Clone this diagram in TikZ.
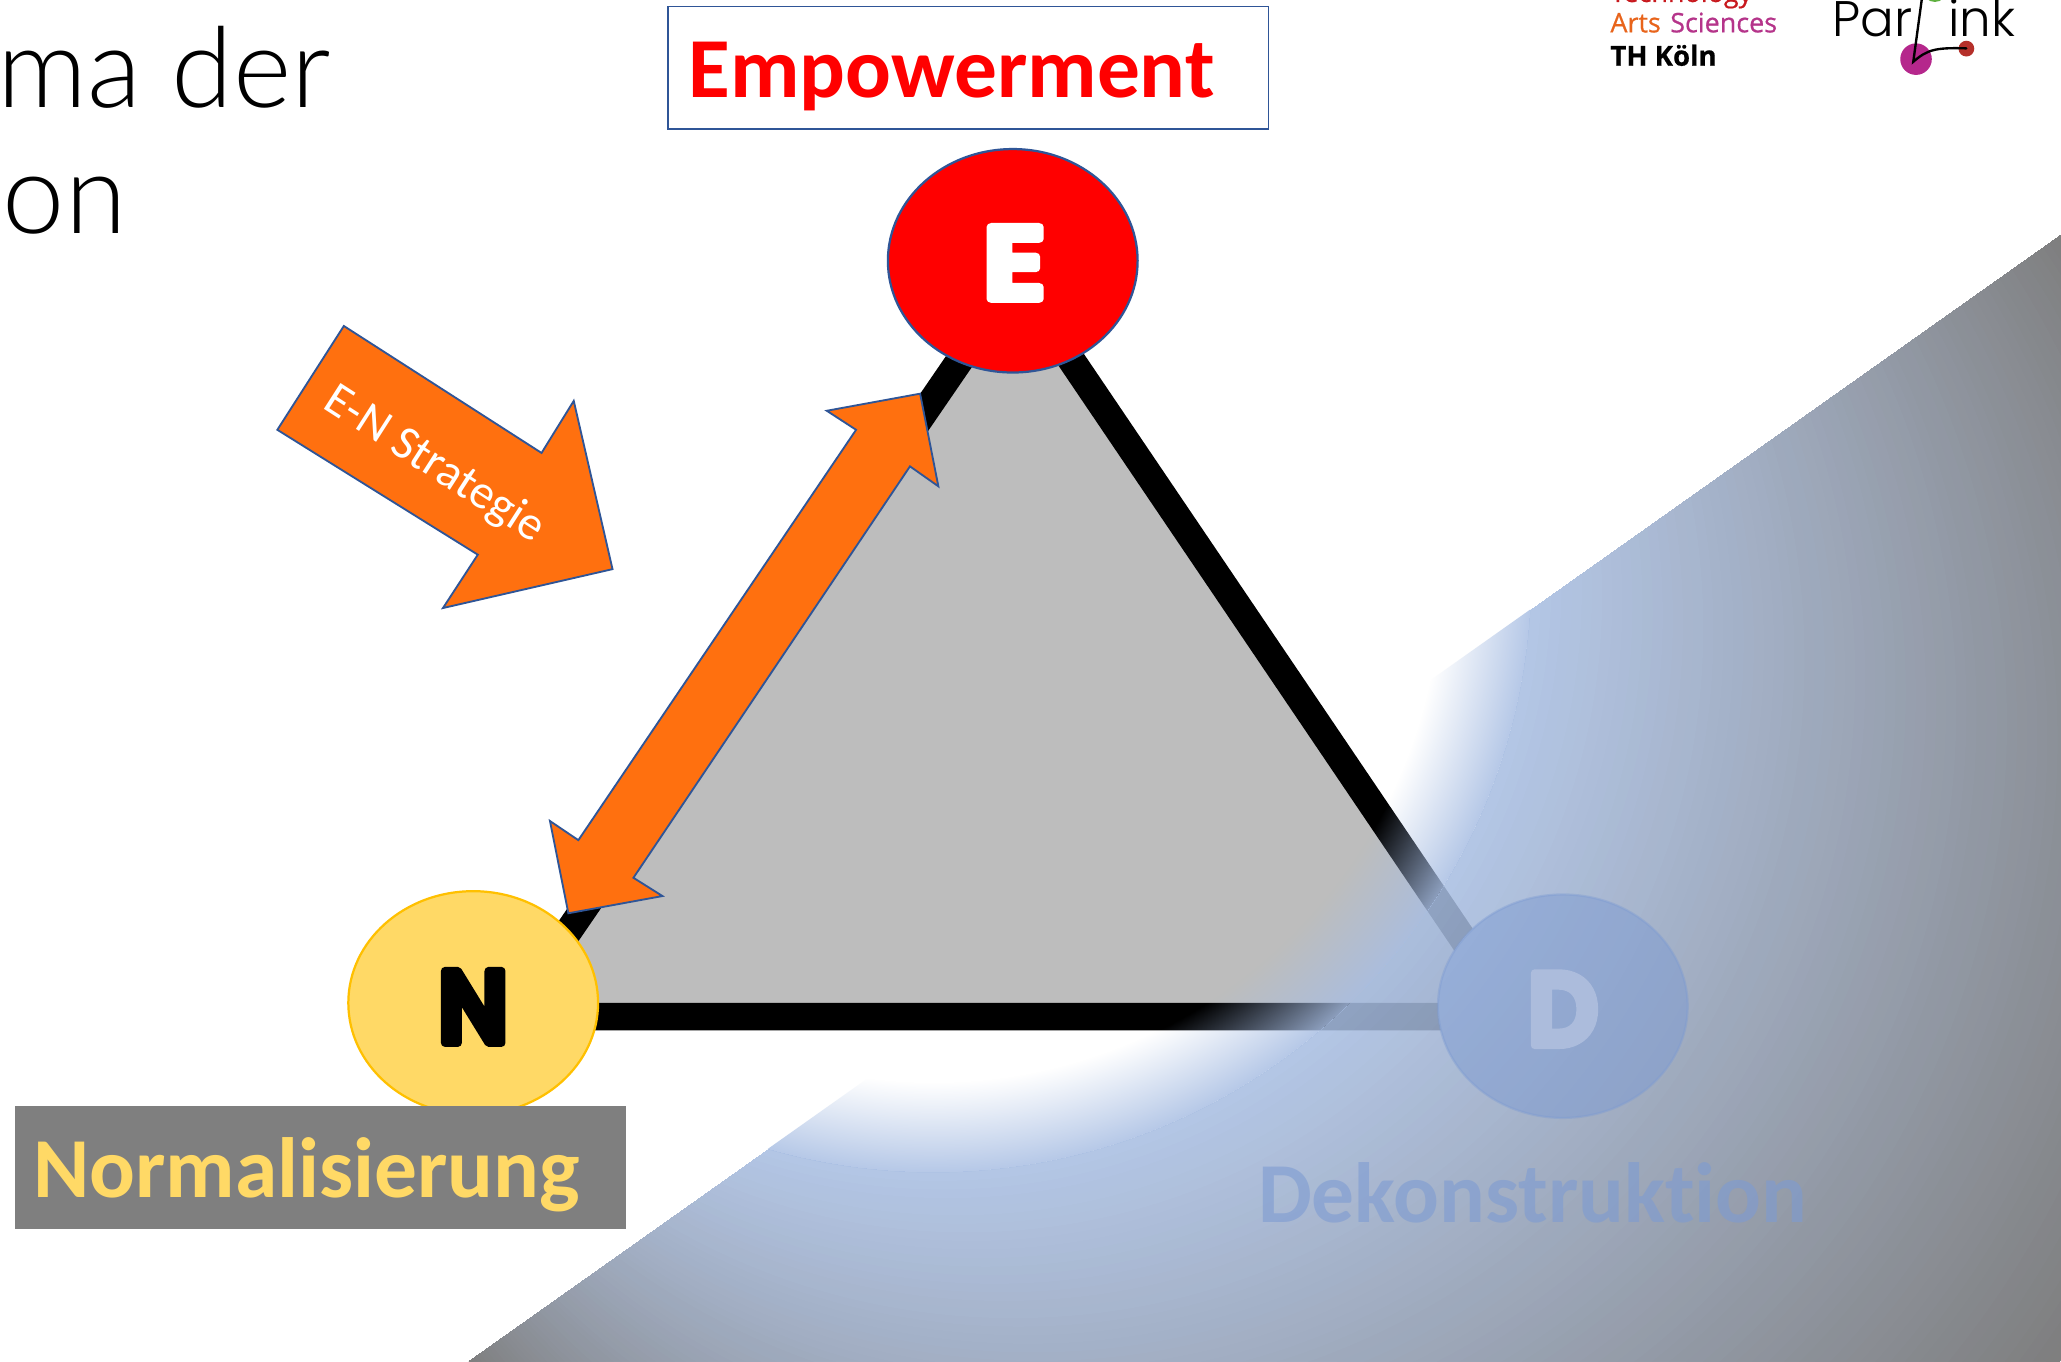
\documentclass[tikz,border=0pt]{standalone}
\usepackage{fontspec}
\setmainfont[Ligatures=NoCommon]{Carlito}
\newfontfamily\titlefont{Lato Light}
\newfontfamily\parfont{Poppins Light}
\newfontfamily\logofont[FakeBold=.6]{Open Sans}
\newfontfamily\heavyfont[FakeBold=8]{Poppins SemiBold}
\usetikzlibrary{shapes.geometric,fadings}
\definecolor{edgeblue}{HTML}{2F5597}
\definecolor{orangefill}{HTML}{FF700F}
\definecolor{goldfill}{HTML}{FFD966}
\definecolor{goldedge}{HTML}{FFC000}
\definecolor{trigrey}{RGB}{189,189,189}
\definecolor{artsorange}{RGB}{232,100,27}
\definecolor{scimagenta}{RGB}{181,52,138}
\definecolor{techred}{RGB}{200,25,30}
\definecolor{dotmagenta}{RGB}{181,39,140}
\definecolor{dotred}{RGB}{181,48,42}
\definecolor{dotgreen}{RGB}{95,176,64}
\definecolor{dfill}{RGB}{125,155,210}
\definecolor{dletter}{RGB}{172,188,220}
\definecolor{boxgrey}{RGB}{127,127,127}
\pgfdeclareradialshading{haloflat}{\pgfpoint{0bp}{0bp}}{rgb(0bp)=(.659,.745,.89); rgb(50bp)=(.659,.745,.89)}
\pgfdeclareradialshading{halomask}{\pgfpoint{0bp}{0bp}}{rgb(0bp)=(0,0,0); rgb(8.75bp)=(0,0,0); rgb(10.34bp)=(.86,.86,.86); rgb(50bp)=(.86,.86,.86)}
\pgfdeclarefading{halofade}{\pgfuseshading{halomask}}
\tikzset{
  blob/.style={shape=ellipse,minimum width=190pt,minimum height=170pt,inner sep=0pt,line width=1.7pt},
  letter/.style={anchor=base,inner sep=0pt,font=\heavyfont\fontsize{78}{78}\selectfont},
  tag/.style={anchor=base west,inner sep=0pt,font=\bfseries\fontsize{65}{65}\selectfont},
  headline/.style={anchor=base west,inner sep=0pt,font=\titlefont\fontsize{85}{85}\selectfont},
  strategyarrow/.style={fill=orangefill,draw=edgeblue,line width=1.4pt,line join=miter},
  logotext/.style={anchor=base west,inner sep=0pt,font=\logofont\fontsize{20.5}{20.5}\selectfont},
  parlink/.style={anchor=base west,inner sep=0pt,font=\parfont\fontsize{38}{38}\selectfont}
}
\begin{document}
\begin{tikzpicture}[x=1pt,y=-1pt]
\useasboundingbox (0,0) rectangle (1568,1035.5);
\clip (0,0) rectangle (1568,1035.5);
\fill[white] (0,0) rectangle (1568,1035.5);
% title
\node[headline] (t1) at (-2,81.7) {ma der};
\node[headline] (t2) at (2,177.5) {on};
% logos
\node[logotext,text=techred] (l0) at (1225,1.5) {Technology};
\node[logotext,text=artsorange] (l1) at (1225,24.6) {Arts};
\node[logotext,text=scimagenta] (l2) at (1270.5,24.6) {Sciences};
\node[logotext,text=black,font=\logofont\bfseries\fontsize{21}{21}\selectfont] (l3) at (1225,50) {TH Köln};
\node[parlink] (p1) at (1394,28) {Par};
\node[parlink] (p2) at (1482,28) {ink};
\fill[dotgreen] (1472,-7.5) circle (9);
\fill[dotmagenta] (1457.7,45) circle (12);
\fill[dotred] (1496,37) circle (6);
\draw[line width=1.8pt,line cap=round] (1462,0) -- (1455.6,47) .. controls (1466,38) and (1472,36) .. (1496,36.8);
% triangle, cut away where the D circle lies
\coordinate (tE) at (773,211.7);
\coordinate (tN) at (388,773.4);
\coordinate (tD) at (1153,773.4);
\begin{scope}[even odd rule]
  \clip (0,0) rectangle (1568,1035.5) (1189,765.5) ellipse (95 and 85.5);
  \draw[fill=trigrey,line width=21pt,line join=miter] (tE) -- (tN) -- (tD) -- cycle;
\end{scope}
% gradient overlay: blends from the inner circle out to the circle through the three corners
\begin{scope}
  \clip (1568,178) -- (356,1035.5) -- (1568,1035.5) -- cycle;
  \begin{scope}[even odd rule]
    \clip (0,0) rectangle (1568,1035.5) (710,437) circle (454.6);
    \begin{scope}[transparency group,opacity=.86]
      \foreach \i in {0,...,70}{
        \pgfmathsetmacro{\tt}{1-\i/70}
        \pgfmathsetmacro{\cr}{.659+(.416-.659)*\tt}
        \pgfmathsetmacro{\cg}{.745+(.416-.745)*\tt}
        \pgfmathsetmacro{\cb}{.89+(.416-.89)*\tt}
        \definecolor{stepcolor}{rgb}{\cr,\cg,\cb}
        \fill[stepcolor] ({710+252*\tt},{437+169.5*\tt}) circle ({455+287*\tt});
      }
    \end{scope}
  \end{scope}
  \begin{scope}
    \clip (710,437) circle (455);
    \shade[shading=haloflat,path fading=halofade] (710,437) circle (1100);
  \end{scope}
\end{scope}
% nodes
\node[blob,fill=red,draw=edgeblue] (E) at (770.5,198.4) {};
\node[blob,fill=goldfill,draw=goldedge] (N) at (360,763) {};
\node[blob,fill=dfill,fill opacity=.5,draw=dfill,draw opacity=.4] (D) at (1189,765.5) {};
\begin{scope}[line join=round]
\node[letter,text=white,xscale=1.15] (Et) at (771.8,227.3) {E};
\node[letter,text=black,xscale=.93] (Nt) at (360,793.3) {N};
\node[letter,text=dletter,xscale=.95] (Dt) at (1189,795) {D};
\end{scope}
% boxes
\node[draw=edgeblue,line width=1.2pt,minimum width=457pt,minimum height=93pt,inner sep=0pt] (Ebox) at (736.5,51.5) {};
\node[tag,text=red] (Etag) at (523.5,74.5) {Empowerment};
\fill[boxgrey] (11.5,841.5) rectangle (476,935);
\node[tag,text=goldfill] (Ntag) at (25,911) {Normalisierung};
\node[tag,text=dfill,text opacity=.6] (Dtag) at (957,930) {Dekonstruktion};
% arrows
\draw[strategyarrow] (700,299.5) -- (629,312.5) -- (651.3,327) -- (440,639.2) -- (418.4,624.6) -- (432.4,694.8) -- (504,681.7) -- (481.9,667.8) -- (692.3,354.8) -- (713.9,370) -- cycle;
\draw[strategyarrow] (261.6,248) -- (412,344.6) -- (436.5,305) -- (466,433) -- (337,462.6) -- (363.5,422) -- (211,327) -- cycle;
\node[text=white,rotate=-32.7,inner sep=0pt,font=\fontsize{36.4}{36.4}\selectfont] (lab) at (330.5,354) {E-N Strategie};
\end{tikzpicture}
\end{document}
